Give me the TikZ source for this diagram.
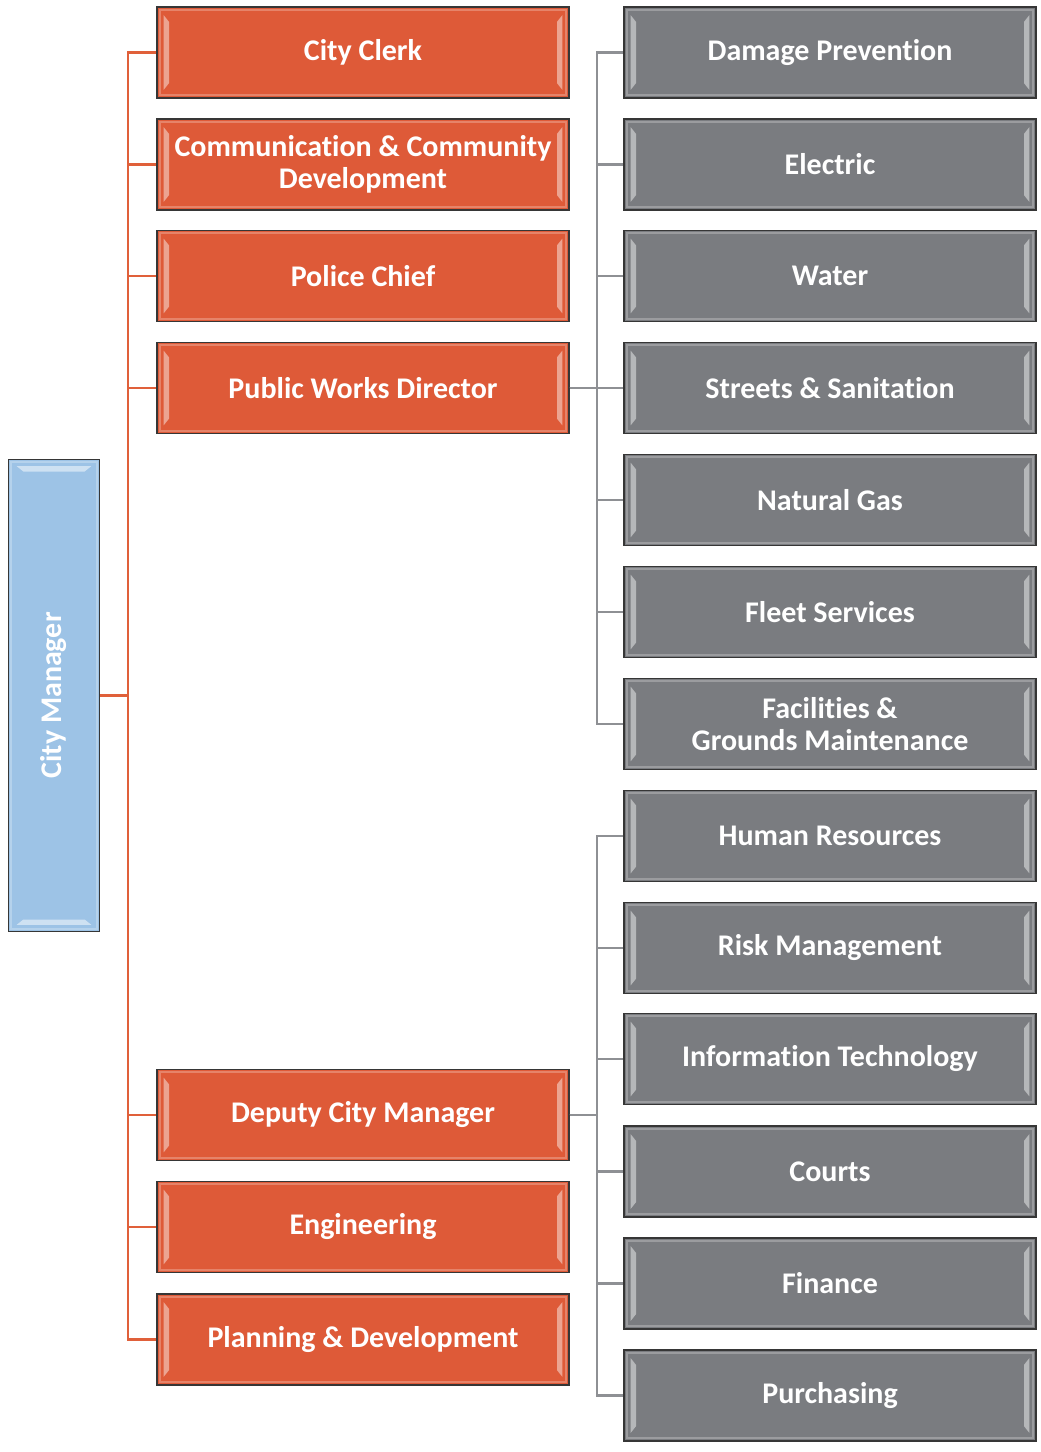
\documentclass[tikz,border=0pt]{standalone}
\usepackage{fontspec}
\setmainfont[Ligatures=NoCommon]{Carlito}
\usetikzlibrary{positioning}

\definecolor{boxline}{HTML}{363636}
\definecolor{mgrfill}{HTML}{9DC3E6}
\definecolor{deptfill}{HTML}{DE5A38}
\definecolor{divfill}{HTML}{7A7C80}
\definecolor{deptline}{HTML}{E0603A}
\definecolor{divline}{HTML}{8E9094}

\tikzset{
  unit/.style={draw=boxline, line width=1.1pt, text=white, align=center,
    font=\bfseries\fontsize{22.5}{24}\selectfont, inner sep=2pt},
  % light strips down the short sides of a box
  bevel sides/.style={path picture={
    \coordinate (pp-nw) at (path picture bounding box.north west);
    \coordinate (pp-sw) at (path picture bounding box.south west);
    \coordinate (pp-ne) at (path picture bounding box.north east);
    \coordinate (pp-se) at (path picture bounding box.south east);
    \draw[white, opacity=.25, line width=1.5pt] ([shift={(2pt,-2pt)}]pp-nw) rectangle ([shift={(-2pt,2pt)}]pp-se);
    \fill[white, opacity=.45] ([shift={(5pt,-6pt)}]pp-nw) -- ([shift={(9pt,-11pt)}]pp-nw)
      -- ([shift={(9pt,11pt)}]pp-sw) -- ([shift={(5pt,6pt)}]pp-sw) -- cycle;
    \fill[white, opacity=.45] ([shift={(-5pt,-6pt)}]pp-ne) -- ([shift={(-9pt,-11pt)}]pp-ne)
      -- ([shift={(-9pt,11pt)}]pp-se) -- ([shift={(-5pt,6pt)}]pp-se) -- cycle;
  }},
  % same strips along the top and bottom
  bevel ends/.style={path picture={
    \coordinate (pp-nw) at (path picture bounding box.north west);
    \coordinate (pp-sw) at (path picture bounding box.south west);
    \coordinate (pp-ne) at (path picture bounding box.north east);
    \coordinate (pp-se) at (path picture bounding box.south east);
    \draw[white, opacity=.25, line width=1.5pt] ([shift={(2pt,-2pt)}]pp-nw) rectangle ([shift={(-2pt,2pt)}]pp-se);
    \fill[white, opacity=.5] ([shift={(6pt,-5pt)}]pp-nw) -- ([shift={(-6pt,-5pt)}]pp-ne)
      -- ([shift={(-11pt,-9pt)}]pp-ne) -- ([shift={(11pt,-9pt)}]pp-nw) -- cycle;
    \fill[white, opacity=.5] ([shift={(6pt,5pt)}]pp-sw) -- ([shift={(-6pt,5pt)}]pp-se)
      -- ([shift={(-11pt,9pt)}]pp-se) -- ([shift={(11pt,9pt)}]pp-sw) -- cycle;
  }},
  mgr/.style={unit, bevel ends, fill=mgrfill, minimum width=68pt, minimum height=354pt},
  dept/.style={unit, bevel sides, fill=deptfill, minimum width=309pt, minimum height=68pt},
  div/.style={unit, bevel sides, fill=divfill, minimum width=309pt, minimum height=68pt},
  dline/.style={draw=deptline, line width=1.6pt},
  gline/.style={draw=divline, line width=1.6pt}
}

\begin{document}
\begin{tikzpicture}[x=0.75pt, y=-0.75pt]
  \useasboundingbox (0,0) rectangle (1041,1452);

  \node[mgr] (cm) at (54,695.5) {\rotatebox{90}{City Manager}};

  % departments reporting to the city manager
  \node[dept] (clerk)  at (363,52.5)  {City Clerk};
  \node[dept] (comm)   at (363,164.5) {Communication \& Community\\Development};
  \node[dept] (police) at (363,276)   {Police Chief};
  \node[dept] (pwd)    at (363,388)   {Public Works Director};
  \node[dept] (deputy) at (363,1115)  {Deputy City Manager};
  \node[dept] (eng)    at (363,1227)  {Engineering};
  \node[dept] (plan)   at (363,1339.5) {Planning \& Development};

  % public works divisions
  \node[div] (dmg)     at (830,52.5)  {Damage Prevention};
  \node[div] (elec)    at (830,164.5) {Electric};
  \node[div] (water)   at (830,276)   {Water};
  \node[div] (streets) at (830,388)   {Streets \& Sanitation};
  \node[div] (gas)     at (830,500)   {Natural Gas};
  \node[div] (fleet)   at (830,612)   {Fleet Services};
  \node[div] (facil)   at (830,724)   {Facilities \&\\Grounds Maintenance};

  % deputy city manager divisions
  \node[div] (hr)      at (830,836)   {Human Resources};
  \node[div] (risk)    at (830,948)   {Risk Management};
  \node[div] (it)      at (830,1059)  {Information Technology};
  \node[div] (courts)  at (830,1171.5) {Courts};
  \node[div] (fin)     at (830,1283.5) {Finance};
  \node[div] (purch)   at (830,1395.5) {Purchasing};

  \draw[dline] (cm.east) -- ++(28,0) |- (clerk.west);
  \draw[dline] (cm.east) -- ++(28,0) |- (comm.west);
  \draw[dline] (cm.east) -- ++(28,0) |- (police.west);
  \draw[dline] (cm.east) -- ++(28,0) |- (pwd.west);
  \draw[dline] (cm.east) -- ++(28,0) |- (deputy.west);
  \draw[dline] (cm.east) -- ++(28,0) |- (eng.west);
  \draw[dline] (cm.east) -- ++(28,0) |- (plan.west);

  \draw[gline] (pwd.east) -- ++(27,0) |- (dmg.west);
  \draw[gline] (pwd.east) -- ++(27,0) |- (elec.west);
  \draw[gline] (pwd.east) -- ++(27,0) |- (water.west);
  \draw[gline] (pwd.east) -- (streets.west);
  \draw[gline] (pwd.east) -- ++(27,0) |- (gas.west);
  \draw[gline] (pwd.east) -- ++(27,0) |- (fleet.west);
  \draw[gline] (pwd.east) -- ++(27,0) |- (facil.west);

  \draw[gline] (deputy.east) -- ++(27,0) |- (hr.west);
  \draw[gline] (deputy.east) -- ++(27,0) |- (risk.west);
  \draw[gline] (deputy.east) -- ++(27,0) |- (it.west);
  \draw[gline] (deputy.east) -- ++(27,0) |- (courts.west);
  \draw[gline] (deputy.east) -- ++(27,0) |- (fin.west);
  \draw[gline] (deputy.east) -- ++(27,0) |- (purch.west);
\end{tikzpicture}
\end{document}
